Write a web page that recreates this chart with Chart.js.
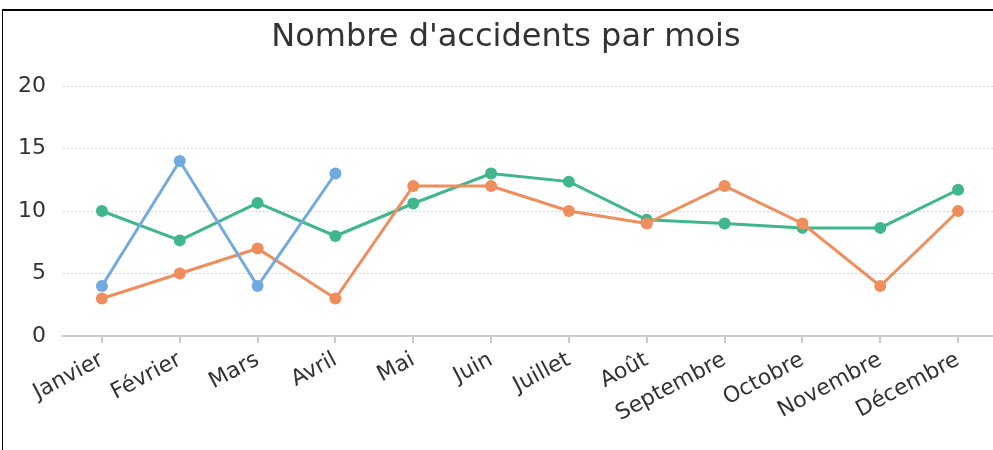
<!DOCTYPE html>
<html><head><meta charset="utf-8">
<script src="https://cdn.jsdelivr.net/npm/chart.js@4/dist/chart.umd.min.js"></script>
<style>
html,body{margin:0;padding:0;overflow:hidden;background:#fff;width:993px;height:450px;}
#wrap{position:absolute;left:2px;top:9px;border-left:1px solid #000;border-top:2px solid #000;}
canvas{display:block;}
</style></head><body>
<div id="wrap"><canvas id="c" width="1005" height="450"></canvas></div>
<script>
const months = ['Janvier','Février','Mars','Avril','Mai','Juin','Juillet','Août','Septembre','Octobre','Novembre','Décembre'];
const seriesBlue = [4,14,4,13,null,null,null,null,null,null,null,null];
const seriesOrange = [3,5,7,3,12,12,10,9,12,9,4,10];
const seriesGreen = [10,7.65,10.65,8,10.6,13,12.35,9.3,9,8.65,8.65,11.7];
const yTicks = [0,5,10,15,20];

const font = 'DejaVu Sans';
function ds(data,color){
  return {data, borderColor:color, backgroundColor:color, borderWidth:3,
    pointRadius:6, pointHoverRadius:6, pointBorderWidth:0, pointBackgroundColor:color,
    tension:0, spanGaps:false};
}
new Chart(document.getElementById('c'),{
  type:'line',
  data:{labels:months, datasets:[ds(seriesBlue,'#72aae0'), ds(seriesOrange,'#ef8d5c'), ds(seriesGreen,'#3fb68b')]},
  options:{
    responsive:false, animation:false, devicePixelRatio:1,
    layout:{padding:{left:12,right:11,top:0,bottom:0}},
    plugins:{legend:{display:false}, tooltip:{enabled:false},
      title:{display:true,text:"Nombre d'accidents par mois",color:'#333',
        font:{family:font,size:32,weight:'normal'},padding:{top:7,bottom:29.6}}},
    scales:{
      x:{offset:true,
        afterFit:(s)=>{s.paddingLeft=0;s.paddingRight=0;s.height=125;},
        grid:{drawOnChartArea:false,drawTicks:true,tickLength:7,color:'#ccc',lineWidth:2},
        border:{display:true,color:'#ccc',width:2},
        ticks:{color:'#333',font:{family:font,size:22},minRotation:28,maxRotation:28,padding:4,autoSkip:false}},
      y:{min:0,max:20,
        afterBuildTicks:(s)=>{s.ticks=yTicks.map(v=>({value:v}));},
        afterFit:(s)=>{s.width=48;s.paddingTop=0;s.paddingBottom=0;},
        grid:{color:'#d4d4d4',lineWidth:1,drawTicks:false},
        border:{display:false,dash:[2,2]},
        ticks:{color:'#333',font:{family:font,size:22},padding:17}}
    }
  }
});
</script></body></html>
